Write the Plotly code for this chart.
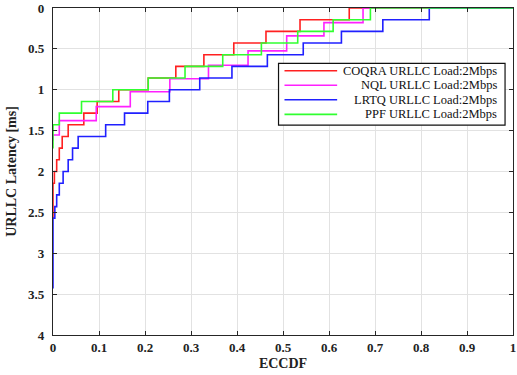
import plotly.graph_objects as go

# ---- data (ECCDF vs latency, step curves; points for 'hv' stairs) ----
coqra_x = [0, 0, 0.003, 0.008, 0.0137, 0.020, 0.033, 0.067, 0.096, 0.143, 0.207, 0.267, 0.328, 0.393, 0.463, 0.537, 0.644, 1]
coqra_y = [2.57, 2.143, 2.0, 1.857, 1.714, 1.571, 1.429, 1.286, 1.143, 1.0, 0.857, 0.714, 0.571, 0.429, 0.286, 0.143, 0, 0]

nql_x = [0, 0, 0.0137, 0.094, 0.168, 0.254, 0.338, 0.424, 0.508, 0.589, 0.674, 1]
nql_y = [1.62, 1.553, 1.378, 1.207, 1.024, 0.866, 0.70, 0.524, 0.341, 0.179, 0, 0]

lrtq_x = [0, 0, 0.004, 0.008, 0.0137, 0.022, 0.033, 0.0425, 0.0547, 0.1145, 0.1555, 0.206, 0.253, 0.319, 0.389, 0.466, 0.544, 0.627, 0.717, 0.818, 1]
lrtq_y = [3.43, 2.57, 2.43, 2.286, 2.143, 2.0, 1.857, 1.714, 1.571, 1.429, 1.286, 1.143, 1.0, 0.857, 0.714, 0.571, 0.429, 0.286, 0.143, 0, 0]

ppf_x = [0, 0, 0.0137, 0.062, 0.13, 0.207, 0.287, 0.369, 0.453, 0.532, 0.609, 0.690, 1]
ppf_y = [1.72, 1.429, 1.286, 1.143, 1.0, 0.857, 0.714, 0.571, 0.429, 0.286, 0.143, 0, 0]

names = ["COQRA URLLC Load:2Mbps", "NQL URLLC Load:2Mbps", "LRTQ URLLC Load:2Mbps", "PPF URLLC Load:2Mbps"]
colors = ["#ff2020", "#ff20ff", "#2020ff", "#30ff30"]
series = [(coqra_x, coqra_y), (nql_x, nql_y), (lrtq_x, lrtq_y), (ppf_x, ppf_y)]

fig = go.Figure()
for (xs, ys), nm, c in zip(series, names, colors):
    fig.add_trace(go.Scatter(x=xs, y=ys, mode="lines", name=nm,
                             line=dict(color=c, width=1.6, shape="hv"),
                             showlegend=False))

serif = "Liberation Serif, Times New Roman, serif"
axcol = "#262626"
common = dict(showline=True, linecolor=axcol, linewidth=1.3, mirror="ticks",
              ticks="inside", ticklen=4, tickcolor=axcol, tickwidth=1,
              showgrid=True, gridcolor="#e2e2e2", gridwidth=1, zeroline=False,
              ticklabeloverflow="allow",
              tickfont=dict(family=serif, size=13, color="#222", weight="bold"))

fig.update_xaxes(range=[0, 1], dtick=0.1, tick0=0,
                 title=dict(text="ECCDF", standoff=4,
                            font=dict(family=serif, size=14, color="#222", weight="bold")),
                 **common)
fig.update_yaxes(range=[4, 0], dtick=0.5, tick0=0, ticklabelstandoff=5,
                 title=dict(text="URLLC Latency [ms]", standoff=8,
                            font=dict(family=serif, size=14, color="#222", weight="bold")),
                 **common)

# ---- manual legend (box, line samples, right-aligned text) ----
L, R, T, B = 53, 516, 7, 335
def px2x(p): return (p - L) / (R - L)
def py2y(p): return (B - p) / (B - T)

shapes = [dict(type="rect", xref="paper", yref="paper",
               x0=px2x(280), x1=px2x(508), y0=py2y(124.5), y1=py2y(62.5),
               line=dict(color="#111", width=1.2), fillcolor="white", layer="above")]
annotations = []
rows = [70, 84.5, 99, 113.7]
for nm, c, ry in zip(names, colors, rows):
    shapes.append(dict(type="line", xref="paper", yref="paper",
                       x0=px2x(286), x1=px2x(339), y0=py2y(ry), y1=py2y(ry),
                       line=dict(color=c, width=1.6), layer="above"))
    annotations.append(dict(xref="paper", yref="paper", x=px2x(502), y=py2y(ry),
                            text=nm, showarrow=False, xanchor="right", yanchor="middle",
                            font=dict(family=serif, size=12.5, color="#111")))

fig.update_layout(width=517, height=375,
                  margin=dict(l=53, r=1, t=7, b=40),
                  paper_bgcolor="white", plot_bgcolor="white",
                  shapes=shapes, annotations=annotations)

fig.write_html("out.html")
